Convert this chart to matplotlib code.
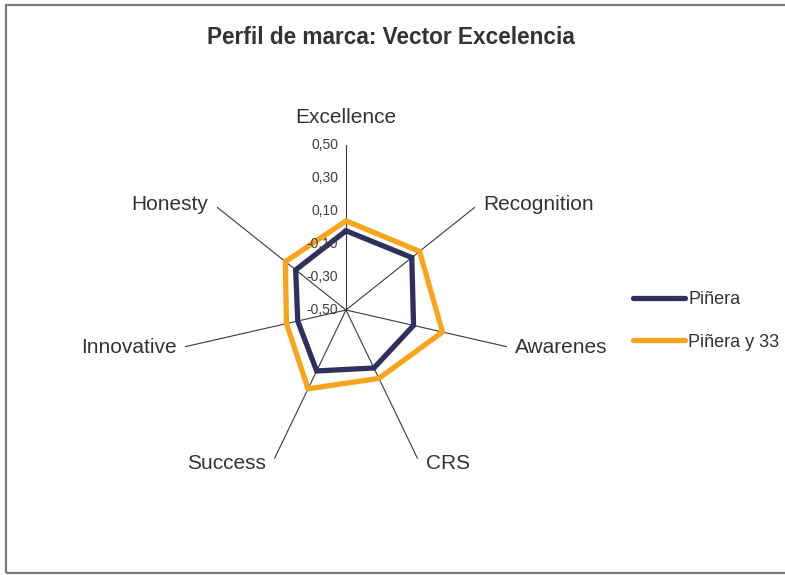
import numpy as np
import matplotlib
matplotlib.use("Agg")
import matplotlib.pyplot as plt
from matplotlib.transforms import offset_copy
from matplotlib.patches import Rectangle

categories = ['Excellence', 'Recognition', 'Awarenes', 'CRS', 'Success', 'Innovative', 'Honesty']
series_names = ['Piñera', 'Piñera y 33']
pinera = [-0.02, 0.01, -0.08, -0.11, -0.09, -0.20, -0.11]
pinera33 = [0.04, 0.07, 0.10, -0.04, 0.03, -0.13, -0.03]
rticks = [-0.50, -0.30, -0.10, 0.10, 0.30, 0.50]
rtick_labels = ['-0,50', '-0,30', '-0,10', '0,10', '0,30', '0,50']
title = 'Perfil de marca: Vector Excelencia'

plt.rcParams['font.family'] = ['Liberation Sans', 'DejaVu Sans']

W, H = 785, 575
fig = plt.figure(figsize=(W / 100, H / 100), dpi=100)
fig.patch.set_facecolor('white')

# outer frame
fig.add_artist(Rectangle((5.5 / W, 2 / H), (W + 10) / W, (H - 6.5) / H,
                         transform=fig.transFigure, fill=False,
                         edgecolor='#7a7a7a', lw=1.6))

cx, cy, R = 346, 310, 165
ax = fig.add_axes([(cx - R) / W, (H - cy - R) / H, 2 * R / W, 2 * R / H],
                  projection='polar')
ax.set_theta_zero_location('N')
ax.set_theta_direction(-1)
ax.set_ylim(-0.5, 0.5)
ax.set_facecolor('none')

n = len(categories)
angles = np.arange(n) * 2 * np.pi / n
ax.set_xticks(angles)
ax.set_xticklabels([])
ax.set_yticks(rticks)
ax.set_yticklabels([])
ax.yaxis.grid(False)
ax.xaxis.grid(True, color='#3a3a3a', lw=0.8)
ax.spines['polar'].set_visible(False)

closed = np.append(angles, angles[0])
colors = ['#30305f', '#f8a51b']
for vals, col, name in zip([pinera, pinera33], colors, series_names):
    v = np.append(vals, vals[0])
    ax.plot(closed, v, color=col, lw=3.8, solid_joinstyle='miter', label=name,
            solid_capstyle='round', zorder=3)

# radial tick labels
tr = offset_copy(ax.transData, fig=fig, x=-8, y=0, units='dots')
for r, lab in zip(rticks, rtick_labels):
    ax.text(0, r, lab, transform=tr, ha='right', va='center', fontsize=10,
            color='#404040', zorder=4)

# category labels
for a, lab in zip(angles, categories):
    s, c = np.sin(a), np.cos(a)
    if abs(s) < 0.1:
        ha, va, dx, dy = 'center', 'bottom', 0, 18
    else:
        ha = 'left' if s > 0 else 'right'
        va = 'center'
        dx, dy = 8.5 * np.sign(s), 5 * c
    t = offset_copy(ax.transData, fig=fig, x=dx, y=dy, units='dots')
    ax.text(a, 0.5, lab, transform=t, ha=ha, va=va, fontsize=15,
            color='#333333', clip_on=False)

fig.text(391 / W, 1 - 38 / H, title, ha='center', va='center', fontsize=16.3,
         fontweight='bold', color='#333333')

leg = fig.legend(loc='center left', bbox_to_anchor=(633 / W, 1 - 321 / H),
                 frameon=False, fontsize=13, handlelength=2.9, handletextpad=0.15,
                 labelspacing=1.4, borderpad=0, borderaxespad=0)
for t in leg.get_texts():
    t.set_color('#333333')

fig.savefig('out.png', dpi=100, facecolor='white')
